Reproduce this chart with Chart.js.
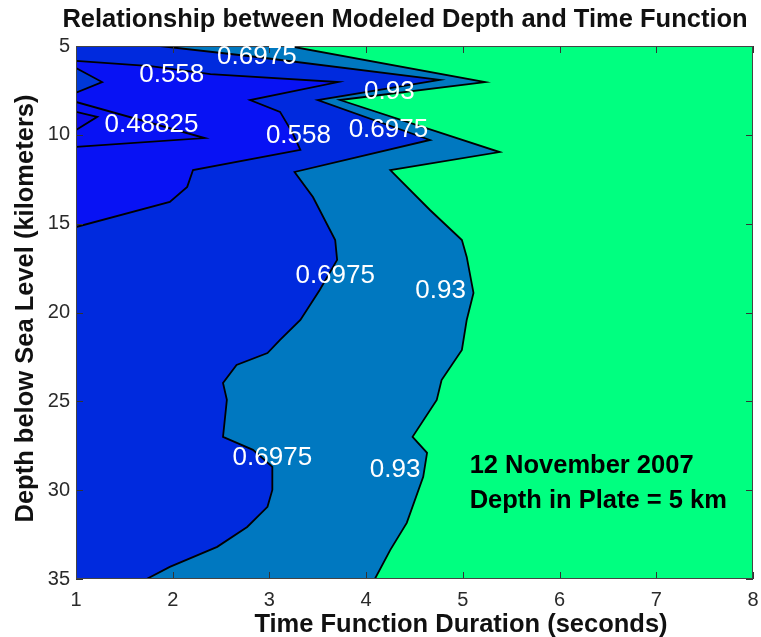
<!DOCTYPE html>
<html>
<head>
<meta charset="utf-8">
<title>Relationship between Modeled Depth and Time Function</title>
<script src="https://cdn.jsdelivr.net/npm/chart.js@4.4.1/dist/chart.umd.min.js"></script>
<style>
    html, body { margin: 0; padding: 0; background: #fff; }
</style>
</head>
<body>
<canvas id="depthChart" width="761" height="637"></canvas>
<script>
// x: time function duration (s), y: depth below sea level (km)
const xTicks = [1, 2, 3, 4, 5, 6, 7, 8];
const yTicks = [5, 10, 15, 20, 25, 30, 35];

// contour lines [duration, depth]
const line093 = [[3.20,5.00],[5.23,7.03],[3.73,8.04],[5.38,10.97],[4.25,11.98],[4.35,12.54],[4.66,14.23],[4.99,15.92],[5.04,16.87],[5.11,18.90],[5.04,20.42],[4.99,22.11],[4.78,23.80],[4.73,24.92],[4.48,27.00],[4.63,27.90],[4.59,29.25],[4.42,31.84],[4.25,33.36],[4.09,35.00]];
const line06975 = [[1.87,5.00],[2.87,5.62],[4.76,6.91],[3.50,8.04],[4.66,10.29],[3.26,12.09],[3.45,13.50],[3.68,15.92],[3.70,17.04],[3.52,18.73],[3.32,20.42],[3.11,21.54],[2.98,22.28],[2.66,22.95],[2.52,23.96],[2.56,24.92],[2.52,27.00],[2.83,27.73],[3.03,28.69],[3.03,29.99],[2.98,30.94],[2.77,32.07],[2.46,33.19],[1.97,34.32],[1.73,35.00]];
const line0558 = [[1.00,5.84],[1.77,6.13],[2.39,6.58],[3.71,7.03],[2.80,8.04],[3.11,8.71],[3.24,9.90],[3.32,10.85],[2.21,11.98],[2.15,12.93],[1.97,13.78],[1.00,15.19]];
const wedge0558 = [[1.00,6.24],[1.27,7.03],[1.00,7.63]];
const line048825 = [[1.00,8.15],[2.33,10.18],[1.00,10.68]];
const innerLoop = [[1.00,8.71],[1.22,8.99],[1.00,9.73]];

// inline contour labels
const labelText = ['0.6975', '0.558', '0.93', '0.48825', '0.558', '0.6975', '0.6975', '0.93', '0.6975', '0.93'];
const labelX = [2.87, 1.99, 4.24, 1.78, 3.30, 4.23, 3.68, 4.77, 3.03, 4.30];
const labelY = [5.62, 6.63, 7.59, 9.45, 10.06, 9.73, 17.94, 18.79, 28.19, 28.86];

const noteLines = ['12 November 2007', 'Depth in Plate = 5 km'];
const noteX = 5.07;
const noteY = [29.03, 31.0];

const FONT = "'Liberation Sans', Arial, Helvetica, sans-serif";

function toPoints(arr) {
    return arr.map(p => ({x: p[0], y: p[1]}));
}

const xMin = xTicks[0], xMax = xTicks[xTicks.length - 1];
const yMin = yTicks[0], yMax = yTicks[yTicks.length - 1];

// filled bands, drawn bottom to top
const bands = [
    {pts: [[xMin, yMin], [xMax, yMin], [xMax, yMax], [xMin, yMax]], color: '#00ff80', edge: 0},
    {pts: [[xMin, yMin], ...line093, [xMin, yMax]], color: '#0078c0', edge: 1.8},
    {pts: [[xMin, yMin], ...line06975, [xMin, yMax]], color: '#002ade', edge: 1.8},
    {pts: line0558, color: '#0812f4', edge: 1.8},
    {pts: wedge0558, color: '#0038d8', edge: 1.8},
    {pts: line048825, color: '#0812f4', edge: 1.8},
    {pts: innerLoop, color: '#0a0ae8', edge: 1.8}
];

const datasets = bands.map((b, i) => ({
    data: toPoints(b.pts),
    showLine: true,
    fill: 'shape',
    backgroundColor: b.color,
    borderColor: '#000',
    borderWidth: b.edge,
    pointRadius: 0,
    tension: 0,
    order: bands.length - i
}));

const axisFrame = {
    id: 'axisFrame',
    afterDatasetsDraw(chart) {
        const {ctx, chartArea: a, scales: {x, y}} = chart;
        ctx.save();
        ctx.strokeStyle = '#333';
        ctx.lineWidth = 1;
        ctx.beginPath();
        xTicks.forEach(v => {
            const px = Math.round(x.getPixelForValue(v)) + 0.5;
            ctx.moveTo(px, a.bottom); ctx.lineTo(px, a.bottom - 7);
            ctx.moveTo(px, a.top); ctx.lineTo(px, a.top + 7);
        });
        yTicks.forEach(v => {
            const py = Math.round(y.getPixelForValue(v)) + 0.5;
            ctx.moveTo(a.left, py); ctx.lineTo(a.left + 7, py);
            ctx.moveTo(a.right, py); ctx.lineTo(a.right - 7, py);
        });
        ctx.stroke();
        ctx.strokeStyle = '#444';
        ctx.strokeRect(a.left + 0.5, a.top + 0.5, a.width - 1, a.height - 1);
        ctx.restore();
    }
};

const plotText = {
    id: 'plotText',
    afterDraw(chart) {
        const {ctx, chartArea: a, scales: {x, y}} = chart;
        ctx.save();

        // contour labels
        ctx.fillStyle = '#fff';
        ctx.font = '26px ' + FONT;
        ctx.textAlign = 'center';
        ctx.textBaseline = 'middle';
        labelText.forEach((t, i) => {
            ctx.fillText(t, x.getPixelForValue(labelX[i]), y.getPixelForValue(labelY[i]));
        });

        // event note
        ctx.fillStyle = '#000';
        ctx.font = 'bold 25.5px ' + FONT;
        ctx.textAlign = 'left';
        ctx.textBaseline = 'alphabetic';
        noteLines.forEach((t, i) => {
            ctx.fillText(t, x.getPixelForValue(noteX), y.getPixelForValue(noteY[i]));
        });

        // titles
        ctx.fillStyle = '#111';
        ctx.textAlign = 'center';
        ctx.fillText('Relationship between Modeled Depth and Time Function', 405, 27);
        ctx.fillText('Time Function Duration (seconds)', 461, 632);
        ctx.translate(33, (a.top + a.bottom) / 2 - 4);
        ctx.rotate(-Math.PI / 2);
        ctx.fillText('Depth below Sea Level (kilometers)', 0, 0);
        ctx.restore();
    }
};

const ctx = document.getElementById('depthChart').getContext('2d');
new Chart(ctx, {
    type: 'scatter',
    data: {datasets: datasets},
    options: {
        responsive: false,
        animation: false,
        devicePixelRatio: 1,
        layout: {padding: {top: 46, right: 8, left: 0, bottom: 0}},
        plugins: {
            legend: {display: false},
            tooltip: {enabled: false}
        },
        scales: {
            x: {
                type: 'linear',
                min: xMin,
                max: xMax,
                afterBuildTicks: s => { s.ticks = xTicks.map(v => ({value: v})); },
                afterFit: s => { s.height = 58; s.paddingLeft = 0; s.paddingRight = 0; },
                grid: {display: false, drawTicks: false},
                border: {display: false},
                ticks: {padding: 9, color: '#2a2a2a', font: {family: FONT, size: 20}}
            },
            y: {
                type: 'linear',
                min: yMin,
                max: yMax,
                reverse: true,
                afterBuildTicks: s => { s.ticks = yTicks.map(v => ({value: v})); },
                afterFit: s => { s.width = 76; s.paddingTop = 0; s.paddingBottom = 0; },
                grid: {display: false, drawTicks: false},
                border: {display: false},
                ticks: {padding: 6, color: '#2a2a2a', font: {family: FONT, size: 20}}
            }
        }
    },
    plugins: [axisFrame, plotText]
});
</script>
</body>
</html>
